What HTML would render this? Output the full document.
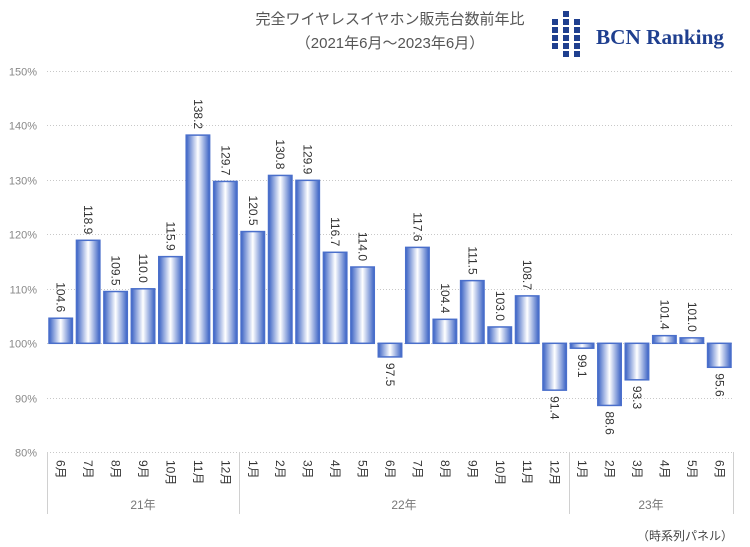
<!DOCTYPE html>
<html><head><meta charset="utf-8"><style>
html,body{margin:0;padding:0;background:#fff}
svg{display:block}
</style></head><body>
<svg width="750" height="547" xmlns="http://www.w3.org/2000/svg" font-family="Liberation Sans, Noto Sans CJK JP, sans-serif">
<defs>
<linearGradient id="g" x1="0" x2="1" y1="0" y2="0">
<stop offset="0" stop-color="#3a62c4"/><stop offset="0.5" stop-color="#ffffff"/><stop offset="1" stop-color="#3a62c4"/>
</linearGradient>
</defs>
<text x="390" y="24" text-anchor="middle" font-size="15" fill="#555">完全ワイヤレスイヤホン販売台数前年比</text>
<text x="390" y="48" text-anchor="middle" font-size="15" fill="#555">（2021年6月～2023年6月）</text>
<g fill="#1f3f8f">
<rect x="552" y="19" width="6" height="6"/><rect x="552" y="27" width="6" height="6"/><rect x="552" y="35" width="6" height="6"/><rect x="552" y="43" width="6" height="6"/>
<rect x="563" y="11" width="6" height="6"/><rect x="563" y="19" width="6" height="6"/><rect x="563" y="27" width="6" height="6"/><rect x="563" y="35" width="6" height="6"/><rect x="563" y="43" width="6" height="6"/><rect x="563" y="51" width="6" height="6"/>
<rect x="574" y="19" width="6" height="6"/><rect x="574" y="27" width="6" height="6"/><rect x="574" y="35" width="6" height="6"/><rect x="574" y="43" width="6" height="6"/><rect x="574" y="51" width="6" height="6"/>
</g>
<text x="596" y="44" font-family="Liberation Serif, serif" font-weight="bold" font-size="21" fill="#1f3f8f" textLength="128" lengthAdjust="spacingAndGlyphs">BCN Ranking</text>
<g id="grid" stroke="#c8c8c8" stroke-dasharray="1,2" stroke-width="1">
</g>
<g id="main"></g>
<text x="733" y="540" text-anchor="end" font-size="12" fill="#444">（時系列パネル）</text>
<script>
var vals=[104.6,118.9,109.5,110.0,115.9,138.2,129.7,120.5,130.8,129.9,116.7,114.0,97.5,117.6,104.4,111.5,103.0,108.7,91.4,99.1,88.6,93.3,101.4,101.0,95.6];
var months=[6,7,8,9,10,11,12,1,2,3,4,5,6,7,8,9,10,11,12,1,2,3,4,5,6];
var ns="http://www.w3.org/2000/svg",g=document.getElementById('main'),gr=document.getElementById('grid');
function el(t,a,p,txt){var e=document.createElementNS(ns,t);for(var k in a)e.setAttribute(k,a[k]);if(txt!=null)e.textContent=txt;(p||g).appendChild(e);return e;}
function Y(v){return 343.3-(v-100)*5.45;}
for(var p=80;p<=150;p+=10){var y=Math.round(Y(p))+0.5;el('line',{x1:47,x2:733,y1:y,y2:y},gr);
el('text',{x:37,y:y+4,'text-anchor':'end','font-size':11,fill:'#888'},g,p+'%');}
var W=27.44;
for(var i=0;i<25;i++){var v=vals[i],x0=47+i*W+2,w=W-4,y1=Y(Math.max(v,100)),y2=Y(Math.min(v,100));
el('rect',{x:x0,y:y1,width:w,height:y2-y1,fill:'url(#g)',stroke:'#4a6fcb','stroke-width':1.5});
var cx=x0+w/2,lbl=v.toFixed(1);
if(v>=100){var ty=y1-6;el('text',{x:0,y:0,transform:'translate('+(cx-4)+','+ty+') rotate(90)','text-anchor':'end','font-size':12,fill:'#333'},g,lbl);}
else{var ty=y2+6;el('text',{x:0,y:0,transform:'translate('+(cx-4)+','+ty+') rotate(90)','text-anchor':'start','font-size':12,fill:'#333'},g,lbl);}
el('text',{x:0,y:0,transform:'translate('+(cx-4)+',460) rotate(90)','text-anchor':'start','font-size':12,fill:'#333'},g,months[i]+'月');
}
[47,239,569,733].forEach(function(x){el('line',{x1:x+0.5,x2:x+0.5,y1:452,y2:514,stroke:'#d0d0d0','stroke-width':1});});
[[143,'21年'],[404,'22年'],[651,'23年']].forEach(function(a){el('text',{x:a[0],y:509,'text-anchor':'middle','font-size':12,fill:'#777'},g,a[1]);});
</script>
</svg>
</body></html>
